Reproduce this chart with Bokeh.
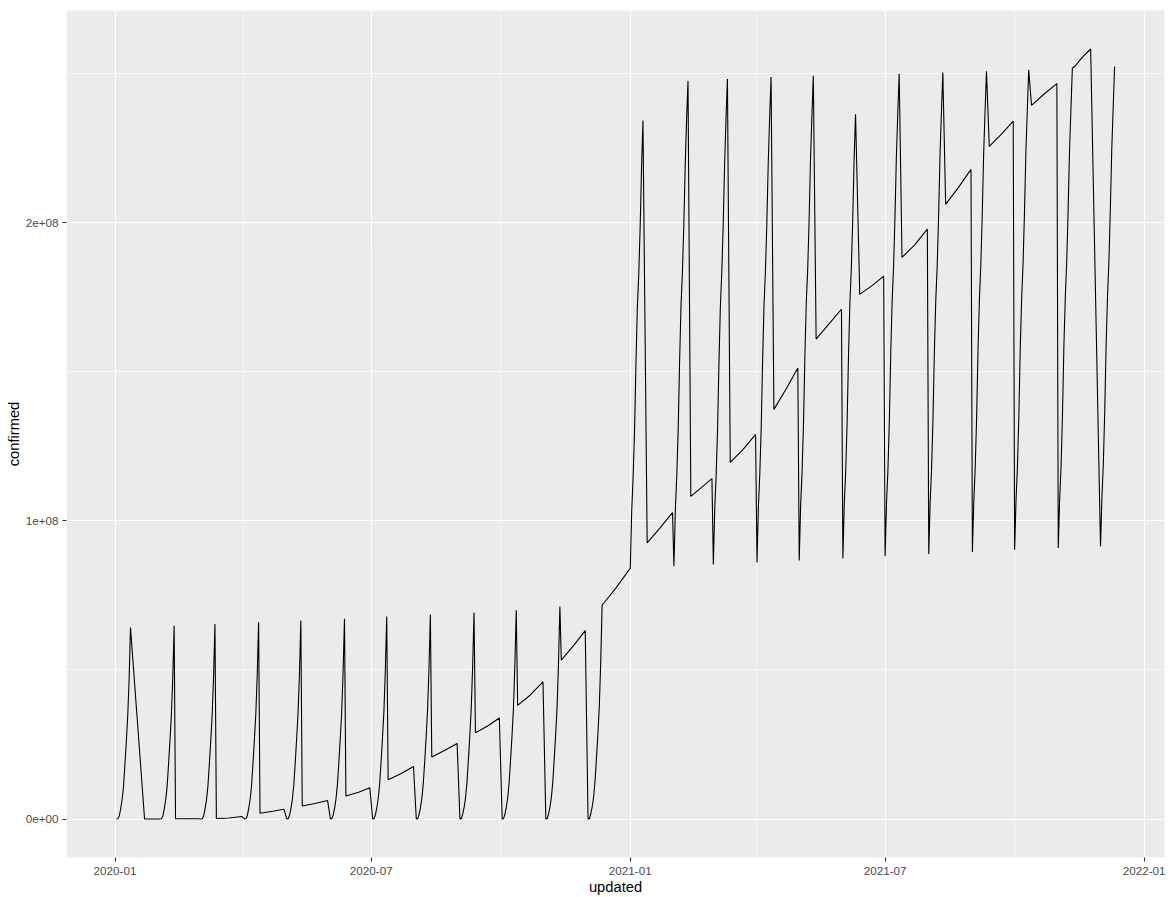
from datetime import datetime
from bokeh.plotting import figure
from bokeh.models import ColumnDataSource, Range1d, FixedTicker, DatetimeTickFormatter, CustomJSTickFormatter
from bokeh.embed import file_html
from bokeh.resources import INLINE

# (day, confirmed in millions) per displayed month
jan_2020 = [(2, 0.012), (3, 0.088), (4, 0.93), (5, 3.35), (6, 6.28), (7, 10.67), (8, 17.9), (9, 25.6), (10, 34.2), (11, 46.4), (12, 64.2), (22, 0.0006), (31, 0.0099)]
feb_2020 = [(2, 0.017), (3, 0.090), (4, 1.02), (5, 3.43), (6, 6.40), (7, 10.85), (8, 18.12), (9, 25.9), (10, 34.48), (11, 46.9), (12, 64.8), (13, 0.060), (29, 0.086)]
mar_2020 = [(2, 0.020), (3, 0.093), (4, 1.10), (5, 3.50), (6, 6.51), (7, 11.03), (8, 18.35), (9, 26.2), (10, 34.75), (11, 47.45), (12, 65.4), (13, 0.145), (22, 0.34), (31, 0.86)]
apr_2020 = [(2, 0.024), (3, 0.095), (4, 1.19), (5, 3.58), (6, 6.63), (7, 11.22), (8, 18.57), (9, 26.5), (10, 35.03), (11, 47.98), (12, 66.0), (13, 1.92), (22, 2.6), (30, 3.26)]
may_2020 = [(2, 0.028), (3, 0.097), (4, 1.27), (5, 3.66), (6, 6.74), (7, 11.4), (8, 18.8), (9, 26.8), (10, 35.3), (11, 48.5), (12, 66.6), (13, 4.36), (22, 5.2), (31, 6.18)]
jun_2020 = [(2, 0.031), (3, 0.10), (4, 1.35), (5, 3.75), (6, 6.86), (7, 11.62), (8, 19.04), (9, 27.04), (10, 35.66), (11, 49.06), (12, 67.2), (13, 7.69), (22, 9.0), (30, 10.45)]
jul_2020 = [(2, 0.034), (3, 0.105), (4, 1.44), (5, 3.84), (6, 6.97), (7, 11.84), (8, 19.28), (9, 27.28), (10, 36.02), (11, 49.62), (12, 67.9), (13, 13.15), (22, 15.2), (31, 17.6)]
aug_2020 = [(2, 0.037), (3, 0.11), (4, 1.52), (5, 3.92), (6, 7.09), (7, 12.06), (8, 19.52), (9, 27.52), (10, 36.38), (11, 50.18), (12, 68.6), (13, 20.8), (22, 23.0), (31, 25.3)]
sep_2020 = [(2, 0.040), (3, 0.114), (4, 1.61), (5, 4.01), (6, 7.20), (7, 12.28), (8, 19.76), (9, 27.76), (10, 36.74), (11, 50.74), (12, 69.3), (13, 28.9), (22, 31.3), (30, 33.9)]
oct_2020 = [(2, 0.043), (3, 0.119), (4, 1.69), (5, 4.10), (6, 7.32), (7, 12.5), (8, 20.0), (9, 28.0), (10, 37.1), (11, 51.3), (12, 70.0), (13, 38.1), (22, 41.6), (31, 46.0)]
nov_2020 = [(2, 0.044), (3, 0.124), (4, 1.77), (5, 4.18), (6, 7.43), (7, 12.72), (8, 20.25), (9, 28.3), (10, 37.45), (11, 51.95), (12, 71.3), (13, 53.3), (22, 58.3), (30, 63.2)]
dec_2020 = [(2, 0.045), (3, 0.128), (4, 1.85), (5, 4.27), (6, 7.55), (7, 12.95), (8, 20.5), (9, 28.6), (10, 37.8), (11, 52.6), (12, 71.8), (13, 72.3), (22, 77.6), (31, 83.5)]
jan_2021 = [(1, 84.1), (2, 103.2), (3, 114.5), (4, 129.6), (5, 152.1), (6, 171.4), (7, 182.5), (8, 198.3), (9, 218.3), (10, 234.3), (13, 92.6), (22, 97.6), (31, 102.8)]
feb_2021 = [(1, 84.75), (2, 103.7), (3, 114.9), (4, 130.2), (5, 152.8), (6, 171.8), (7, 182.9), (8, 198.85), (9, 219.0), (10, 234.7), (11, 247.6), (13, 108.2), (20, 111.0), (28, 114.2)]
mar_2021 = [(1, 85.4), (2, 104.2), (3, 115.35), (4, 130.8), (5, 153.45), (6, 172.2), (7, 183.35), (8, 199.4), (9, 219.65), (10, 235.1), (11, 248.2), (13, 119.6), (22, 123.9), (31, 129.0)]
apr_2021 = [(1, 86.05), (2, 104.7), (3, 115.8), (4, 131.4), (5, 154.1), (6, 172.6), (7, 183.8), (8, 199.95), (9, 220.3), (10, 235.5), (11, 248.9), (13, 137.4), (22, 144.5), (30, 151.3)]
may_2021 = [(1, 86.7), (2, 105.2), (3, 116.2), (4, 132.0), (5, 154.8), (6, 173.0), (7, 184.2), (8, 200.5), (9, 221.0), (10, 235.9), (11, 249.3), (13, 161.0), (22, 166.0), (31, 171.0)]
jun_2021 = [(1, 87.42), (2, 105.56), (3, 116.6), (4, 132.66), (5, 155.48), (6, 173.38), (7, 184.66), (8, 201.1), (9, 221.56), (10, 236.4), (13, 176.0), (22, 179.0), (30, 182.1)]
jul_2021 = [(1, 88.14), (2, 105.92), (3, 117.0), (4, 133.32), (5, 156.16), (6, 173.76), (7, 185.12), (8, 201.7), (9, 222.12), (10, 236.66), (11, 250.0), (13, 188.4), (22, 192.6), (31, 197.9)]
aug_2021 = [(1, 88.86), (2, 106.28), (3, 117.4), (4, 133.98), (5, 156.84), (6, 174.14), (7, 185.58), (8, 202.3), (9, 222.68), (10, 237.04), (11, 250.4), (13, 206.2), (22, 211.8), (31, 217.9)]
sep_2021 = [(1, 89.58), (2, 106.64), (3, 117.8), (4, 134.64), (5, 157.52), (6, 174.52), (7, 186.04), (8, 202.9), (9, 223.24), (10, 237.42), (11, 250.8), (13, 225.6), (22, 229.9), (30, 234.1)]
oct_2021 = [(1, 90.3), (2, 107.0), (3, 118.2), (4, 135.3), (5, 158.2), (6, 174.9), (7, 186.5), (8, 203.5), (9, 223.8), (10, 237.8), (11, 251.3), (13, 239.4), (22, 243.2), (31, 246.7)]
nov_2021 = [(1, 90.9), (2, 107.4), (3, 118.7), (4, 135.95), (5, 158.85), (6, 175.3), (7, 186.95), (8, 204.25), (9, 224.3), (10, 238.25), (11, 251.9), (13, 252.6), (18, 255.5), (24, 258.3)]
dec_2021 = [(1, 91.5), (2, 107.8), (3, 119.2), (4, 136.6), (5, 159.5), (6, 175.7), (7, 187.4), (8, 205.0), (9, 224.8), (10, 238.7), (11, 252.4)]

months = [
    (2020, 1, jan_2020), (2020, 2, feb_2020), (2020, 3, mar_2020), (2020, 4, apr_2020),
    (2020, 5, may_2020), (2020, 6, jun_2020), (2020, 7, jul_2020), (2020, 8, aug_2020),
    (2020, 9, sep_2020), (2020, 10, oct_2020), (2020, 11, nov_2020), (2020, 12, dec_2020),
    (2021, 1, jan_2021), (2021, 2, feb_2021), (2021, 3, mar_2021), (2021, 4, apr_2021),
    (2021, 5, may_2021), (2021, 6, jun_2021), (2021, 7, jul_2021), (2021, 8, aug_2021),
    (2021, 9, sep_2021), (2021, 10, oct_2021), (2021, 11, nov_2021), (2021, 12, dec_2021),
]

x_major = ["2020-01-01", "2020-07-01", "2021-01-01", "2021-07-01", "2022-01-01"]
x_minor = ["2020-04-01", "2020-10-01", "2021-04-01", "2021-10-01"]
y_major = [0, 1e8, 2e8]
y_minor = [0.5e8, 1.5e8, 2.5e8]

dates, confirmed = [], []
for yr, mo, pts in months:
    for d, v in pts:
        dates.append(datetime(yr, mo, d))
        confirmed.append(v * 1e6)

EPOCH = datetime(1970, 1, 1)
def ms(s):
    return (datetime.strptime(s, "%Y-%m-%d") - EPOCH).total_seconds() * 1000.0

xmin, xmax = min(dates), max(dates)
xpad = (xmax - xmin) * 0.05
ymin, ymax = min(confirmed), max(confirmed)
ypad = (ymax - ymin) * 0.05

src = ColumnDataSource(dict(updated=dates, confirmed=confirmed))

p = figure(width=1172, height=897, x_axis_type="datetime",
           x_range=Range1d(xmin - xpad, xmax + xpad),
           y_range=Range1d(ymin - ypad, ymax + ypad),
           output_backend="svg", toolbar_location=None,
           min_border_left=66, min_border_right=8, min_border_top=10, min_border_bottom=40)

p.line(x="updated", y="confirmed", source=src, line_color="black", line_width=1.1)

p.background_fill_color = "#EBEBEB"
p.border_fill_color = "white"
p.outline_line_color = None

p.xaxis.ticker = FixedTicker(ticks=[ms(s) for s in x_major], minor_ticks=[ms(s) for s in x_minor])
p.yaxis.ticker = FixedTicker(ticks=y_major, minor_ticks=y_minor)
p.xaxis.formatter = DatetimeTickFormatter(years="%Y-%m", months="%Y-%m", days="%Y-%m",
                                          hours="%Y-%m", minutes="%Y-%m", seconds="%Y-%m",
                                          milliseconds="%Y-%m", microseconds="%Y-%m")
p.yaxis.formatter = CustomJSTickFormatter(code="""
if (tick == 0) { return "0e+00"; }
const e = Math.floor(Math.log10(Math.abs(tick)) + 1e-9);
const m = tick / Math.pow(10, e);
return m.toFixed(0) + "e+" + String(e).padStart(2, "0");
""")

for g in (p.xgrid, p.ygrid):
    g.grid_line_color = "white"
    g.grid_line_width = 1.2
    g.minor_grid_line_color = "white"
    g.minor_grid_line_width = 0.6

for ax in (p.xaxis, p.yaxis):
    ax.axis_line_color = None
    ax.major_tick_line_color = "#333333"
    ax.major_tick_line_width = 1.1
    ax.major_tick_out = 4
    ax.major_tick_in = 0
    ax.minor_tick_line_color = None
    ax.major_label_text_font = "Liberation Sans"
    ax.major_label_text_font_size = "11.7px"
    ax.major_label_text_color = "#4D4D4D"
    ax.axis_label_text_font = "Liberation Sans"
    ax.axis_label_text_font_size = "14.7px"
    ax.axis_label_text_color = "black"
    ax.axis_label_text_font_style = "normal"

p.xaxis.axis_label = "updated"
p.yaxis.axis_label = "confirmed"
p.xaxis.major_label_standoff = 5
p.yaxis.major_label_standoff = 4
p.xaxis.axis_label_standoff = 1
p.yaxis.axis_label_standoff = 1

open("out.html", "w").write(file_html(p, INLINE))
